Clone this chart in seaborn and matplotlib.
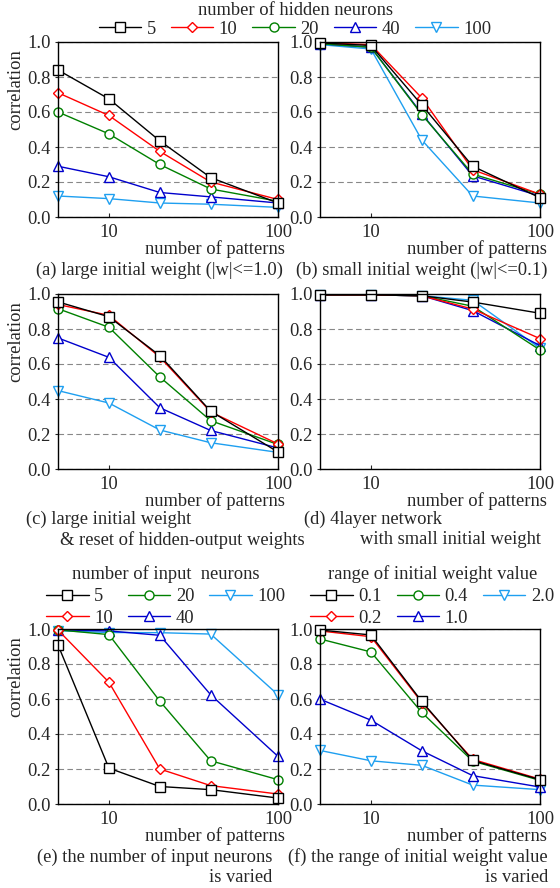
import numpy as np
import pandas as pd
import seaborn as sns
import matplotlib.pyplot as plt
from matplotlib.lines import Line2D

# x positions (number of patterns)
patterns = [5, 10, 20, 40, 100]

# legend labels
hidden_labels = ['5', '10', '20', '40', '100']
input_labels = ['5', '10', '20', '40', '100']
range_labels = ['0.1', '0.2', '0.4', '1.0', '2.0']

# (a) large initial weight
corr_a = [[0.84, 0.675, 0.435, 0.225, 0.08],
          [0.71, 0.58, 0.375, 0.20, 0.10],
          [0.60, 0.475, 0.30, 0.16, 0.09],
          [0.29, 0.23, 0.14, 0.115, 0.08],
          [0.12, 0.105, 0.08, 0.073, 0.055]]
# (b) small initial weight
corr_b = [[0.995, 0.98, 0.64, 0.29, 0.11],
          [0.995, 0.985, 0.68, 0.27, 0.13],
          [0.99, 0.97, 0.585, 0.245, 0.13],
          [0.99, 0.97, 0.59, 0.235, 0.12],
          [0.985, 0.96, 0.44, 0.12, 0.08]]
# (c) large initial weight & reset
corr_c = [[0.955, 0.87, 0.648, 0.33, 0.097],
          [0.94, 0.878, 0.64, 0.326, 0.143],
          [0.916, 0.81, 0.526, 0.276, 0.14],
          [0.749, 0.638, 0.35, 0.22, 0.12],
          [0.448, 0.377, 0.223, 0.15, 0.095]]
# (d) 4layer network
corr_d = [[0.995, 0.995, 0.99, 0.954, 0.89],
          [0.995, 0.995, 0.99, 0.914, 0.745],
          [0.995, 0.995, 0.99, 0.93, 0.68],
          [0.995, 0.995, 0.99, 0.905, 0.705],
          [0.995, 0.995, 0.99, 0.964, 0.69]]
# (e) number of input neurons
corr_e = [[0.909, 0.205, 0.10, 0.082, 0.034],
          [0.994, 0.696, 0.20, 0.105, 0.057],
          [0.995, 0.968, 0.588, 0.247, 0.139],
          [0.995, 0.989, 0.964, 0.624, 0.272],
          [0.99, 0.98, 0.979, 0.971, 0.624]]
# (f) range of initial weight value
corr_f = [[0.994, 0.966, 0.586, 0.249, 0.139],
          [0.989, 0.956, 0.58, 0.255, 0.142],
          [0.943, 0.869, 0.523, 0.245, 0.135],
          [0.599, 0.479, 0.304, 0.162, 0.097],
          [0.306, 0.247, 0.221, 0.108, 0.082]]

colors = ['black', '#ff0000', '#008000', '#0000cc', '#1e9ff0']
markers = ['s', 'D', 'o', '^', 'v']
msizes = [6.5, 5, 6.5, 7, 7]
FS = 13.3

sns.set_style('ticks')
plt.rcParams['font.family'] = ['Liberation Serif', 'DejaVu Serif']
plt.rcParams['font.size'] = FS

fig = plt.figure(figsize=(5.6, 8.88), dpi=100)
W, H = 560.0, 888.0


def make_ax(left, top):
    return fig.add_axes([left / W, 1 - (top + 175) / H, 220 / W, 175 / H])


def draw(ax, rows, ylabel=True):
    # draw in reverse so the first series ends up on top
    for i in reversed(range(len(rows))):
        df = pd.DataFrame({'patterns': patterns, 'corr': rows[i]})
        sns.lineplot(data=df, x='patterns', y='corr', ax=ax, color=colors[i],
                     marker=markers[i], ms=msizes[i], mfc='white', mec=colors[i],
                     mew=1, lw=1, clip_on=False, errorbar=None, legend=False)
    ax.set_xscale('log')
    ax.set_xlim(5, 100)
    ax.set_ylim(0, 1)
    ax.set_xticks([10, 100])
    ax.set_xticklabels(['10', '100'])
    ax.xaxis.set_minor_locator(plt.NullLocator())
    ax.set_yticks(np.arange(0, 1.01, 0.2))
    ax.set_yticklabels(['%.1f' % v for v in np.arange(0, 1.01, 0.2)])
    ax.tick_params(axis='x', direction='in', length=3, pad=5, labelsize=FS)
    ax.tick_params(axis='y', direction='out', length=2.5, pad=3, labelsize=FS)
    ax.grid(axis='y', ls=(0, (5, 3)), color='#888888', lw=0.8)
    for s in ax.spines.values():
        s.set_linewidth(1)
        s.set_color('black')
    ax.set_xlabel('number of patterns', ha='right', va='center', fontsize=FS)
    ax.xaxis.set_label_coords(1.03, -0.183)
    if ylabel:
        ax.set_ylabel('correlation', va='center', fontsize=FS)
        ax.yaxis.set_label_coords(-0.19, 0.73)
    else:
        ax.set_ylabel('')


def handles(labels):
    return [Line2D([], [], color=colors[i], marker=markers[i], ms=msizes[i],
                   mfc='white', mec=colors[i], mew=1, lw=1, label=labels[i])
            for i in range(len(labels))]


ax_a = make_ax(58, 42)
ax_b = make_ax(320, 42)
ax_c = make_ax(58, 294)
ax_d = make_ax(320, 294)
ax_e = make_ax(58, 629)
ax_f = make_ax(320, 629)

draw(ax_a, corr_a)
draw(ax_b, corr_b, ylabel=False)
draw(ax_c, corr_c)
draw(ax_d, corr_d, ylabel=False)
draw(ax_e, corr_e)
draw(ax_f, corr_f, ylabel=False)

leg_kw = dict(frameon=False, handlelength=2.3, handletextpad=0.3,
              columnspacing=0.8, fontsize=FS, title_fontsize=FS, borderpad=0.1)

fig.legend(handles=handles(hidden_labels), title='number of hidden neurons',
           loc='upper center', bbox_to_anchor=(295 / W, 1.0), ncol=5,
           borderaxespad=0.0, labelspacing=0.1, **leg_kw)

ax_e.legend(handles=handles(input_labels), title='number of input  neurons',
            loc='lower center', bbox_to_anchor=(0.49, 0.95), ncol=3,
            labelspacing=0.25, **leg_kw)
ax_f.legend(handles=handles(range_labels), title='range of initial weight value',
            loc='lower center', bbox_to_anchor=(0.51, 0.95), ncol=3,
            labelspacing=0.25, **leg_kw)


# captions
def cap(x, y, s, ha='left'):
    fig.text(x / W, 1 - y / H, s, ha=ha, va='center', fontsize=FS)


cap(283, 270, '(a) large initial weight (|w|<=1.0)', ha='right')
cap(548, 270, '(b) small initial weight (|w|<=0.1)', ha='right')
cap(26, 519, '(c) large initial weight')
cap(305, 540, '& reset of hidden-output weights', ha='right')
cap(304, 519, '(d) 4layer network')
cap(541, 540, 'with small initial weight', ha='right')
cap(272, 857, '(e) the number of input neurons', ha='right')
cap(272, 877, 'is varied', ha='right')
cap(548, 857, '(f) the range of initial weight value', ha='right')
cap(548, 877, 'is varied', ha='right')

fig.savefig('out.png', dpi=100)
